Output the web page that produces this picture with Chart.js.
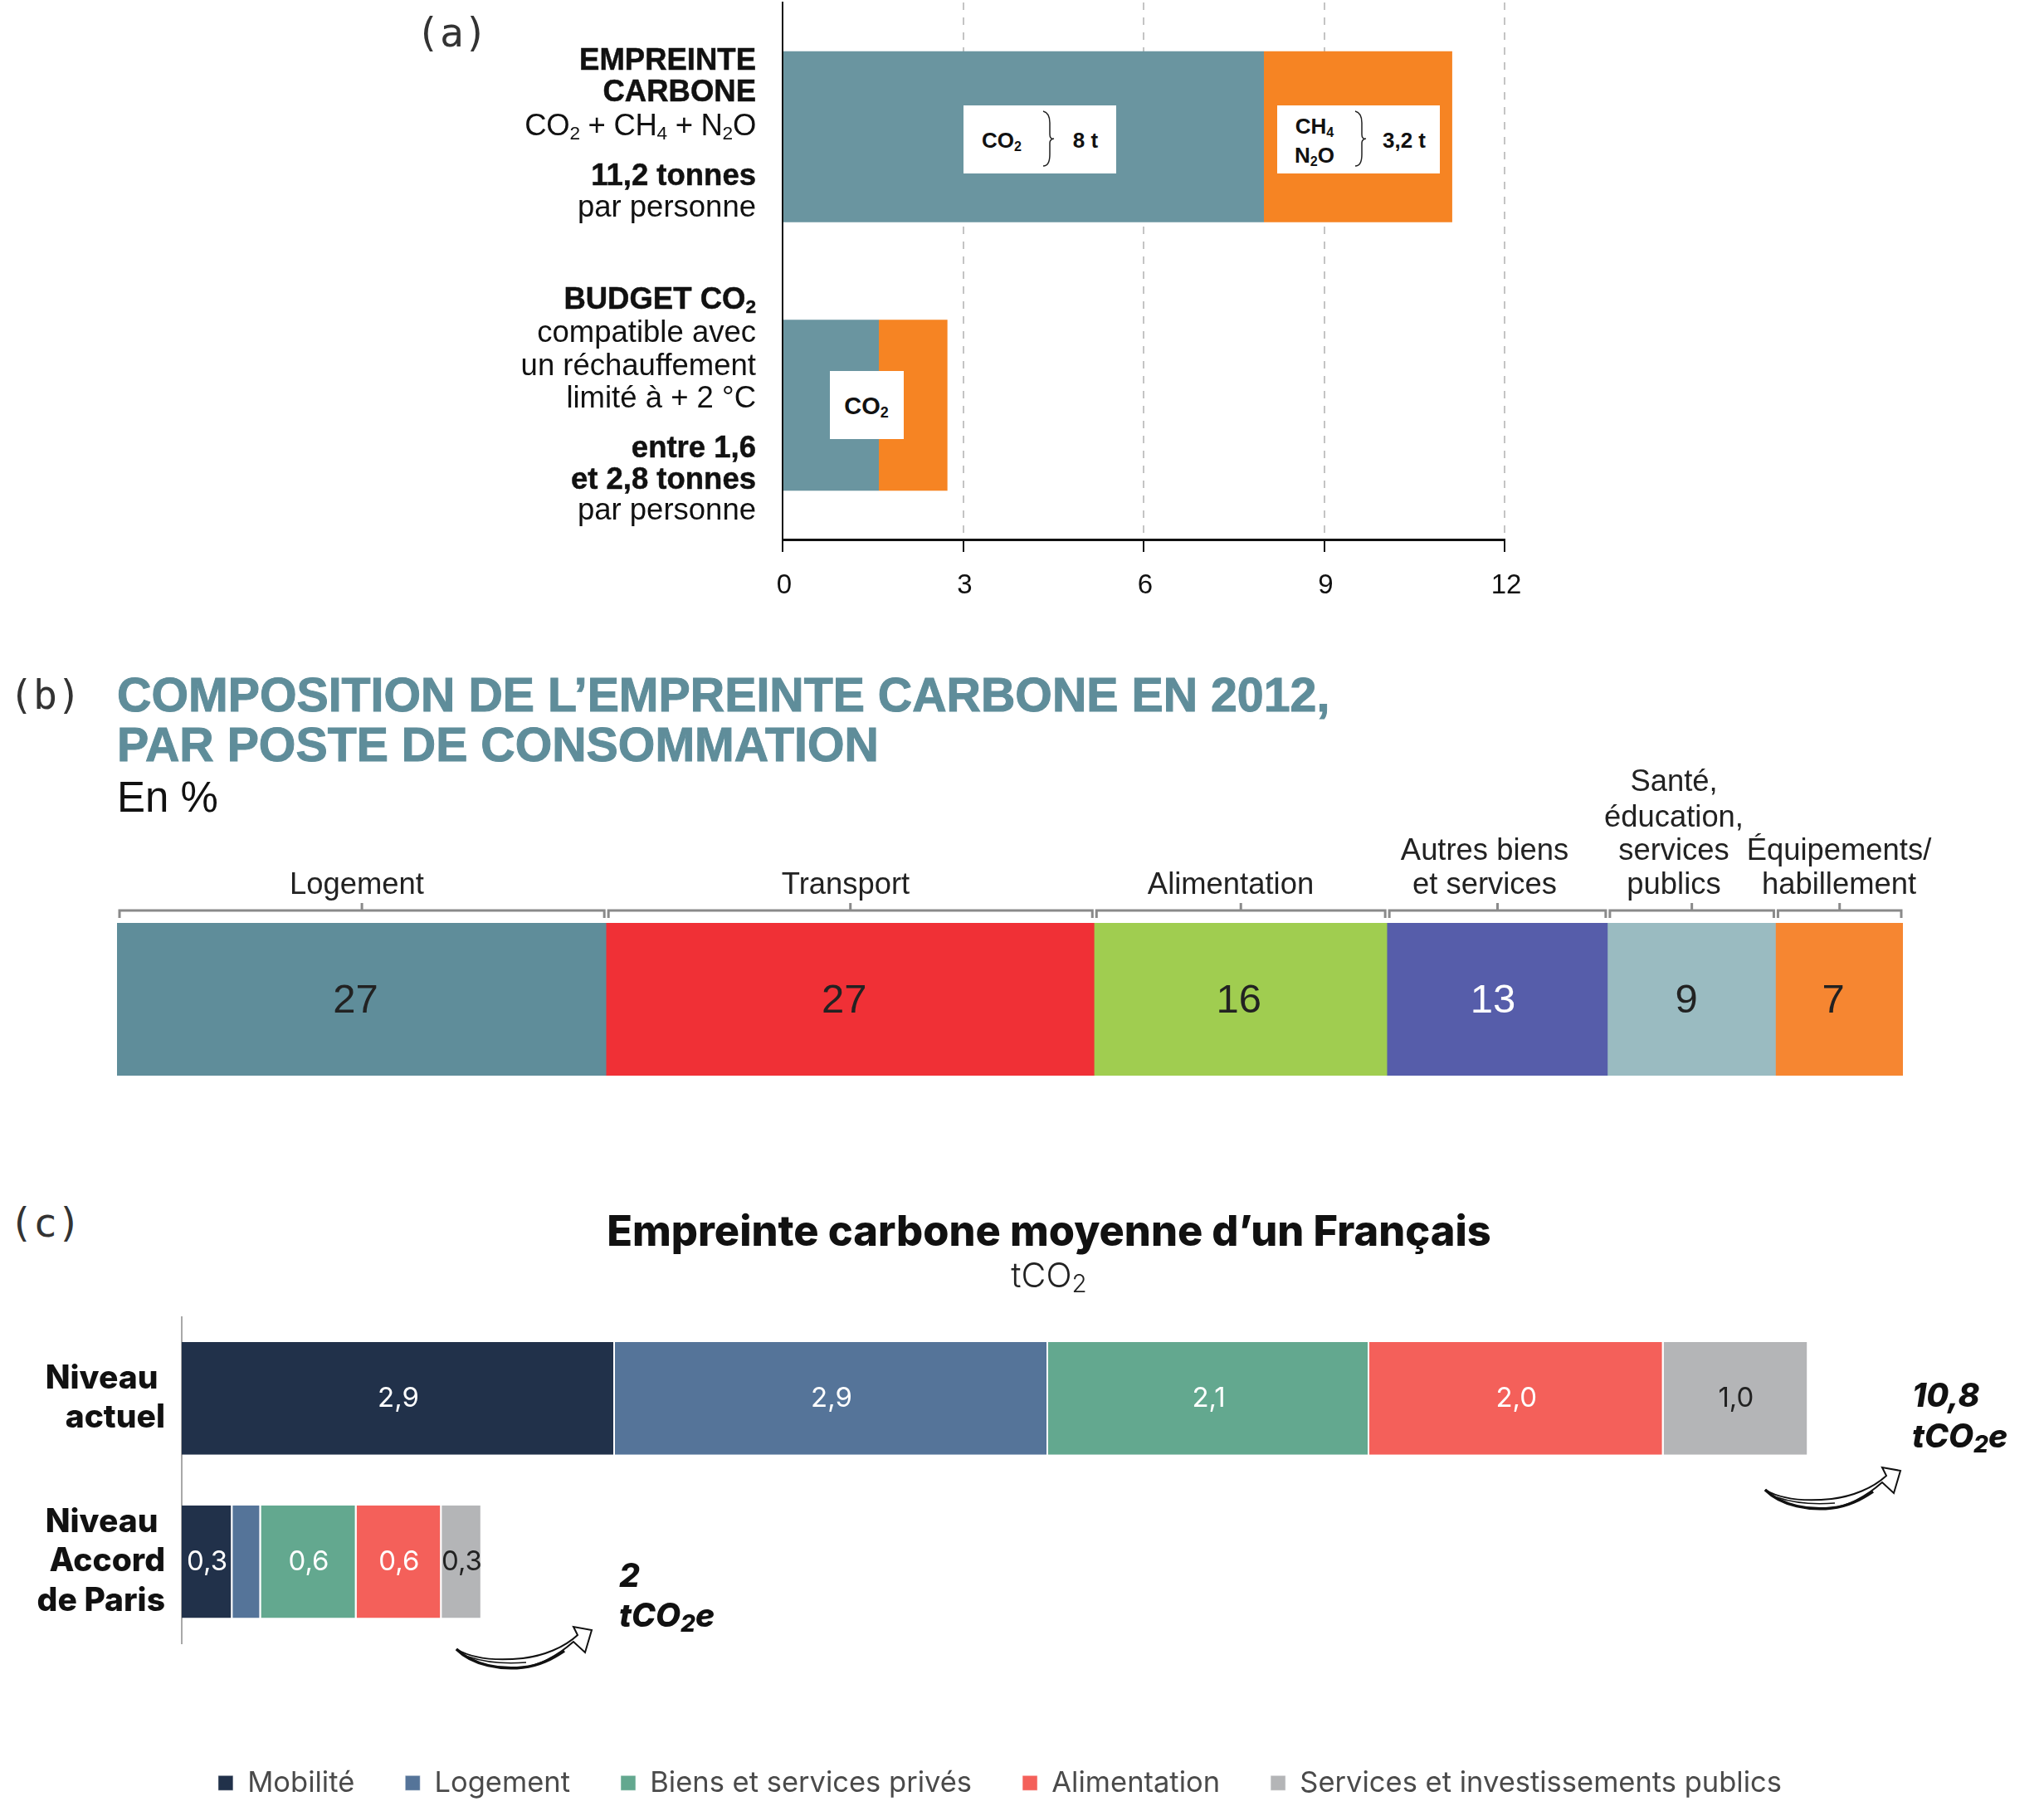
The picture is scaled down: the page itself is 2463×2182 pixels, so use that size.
<!DOCTYPE html>
<html lang="fr">
<head>
<meta charset="UTF-8">
<title>Empreinte carbone</title>
<script src="https://cdn.jsdelivr.net/npm/chart.js"></script>
<style>
    html, body { margin: 0; padding: 0; background: #fff; }
    #page { position: relative; width: 2463px; height: 2182px; overflow: hidden; }
    canvas { position: absolute; left: 0; display: block; }
    #chartA { top: 0; }
    #chartB { top: 790px; }
    #chartC { top: 1560px; }
    svg { position: absolute; left: 0; top: 0; }
    .t { position: absolute; white-space: nowrap; font-family: "Liberation Sans", sans-serif; color: #111; }
    .s { font-size: .62em; position: relative; top: .22em; line-height: 0; }
    .s2 { font-size: .72em; position: relative; top: .22em; line-height: 0; }
    .box { position: absolute; background: #fff; }
</style>
</head>
<body>
<div id="page">
    <canvas id="chartA" width="2463" height="780"></canvas>
    <canvas id="chartB" width="2463" height="540"></canvas>
    <canvas id="chartC" width="2428" height="622"></canvas>
</div>
<script>
// panel (a), tonnes par personne
const aCategories = ["Empreinte carbone", "Budget CO2"];
const aCo2 = [8, 1.6];
const aOther = [3.13, 1.14];
const aTicks = [0, 3, 6, 9, 12];

// panel (b), bar widths measured on the picture, printed labels kept apart
const bSeries = ["Logement", "Transport", "Alimentation", "Autres biens et services", "Santé, éducation, services publics", "Équipements/habillement"];
const bValues = [27.05, 27, 16.2, 12.2, 9.3, 7.05];
const bPrinted = ["27", "27", "16", "13", "9", "7"];

// panel (c), tCO2
const cCategories = [["Niveau ", "actuel"], ["Niveau ", "Accord", "de Paris"]];
const cSeries = ["Mobilité", "Logement", "Biens et services privés", "Alimentation", "Services et investissements publics"];
const cMobilite = [2.9, 0.34];
const cLogement = [2.9, 0.19];
const cBiens = [2.15, 0.64];
const cAlimentation = [1.97, 0.57];
const cServices = [0.97, 0.27];
const cMobiliteLabels = ["2,9", "0,3"];
const cLogementLabels = ["2,9", ""];
const cBiensLabels = ["2,1", "0,6"];
const cAlimentationLabels = ["2,0", "0,6"];
const cServicesLabels = ["1,0", "0,3"];

const bColors = ["#5F8D9A", "#F03036", "#A0CD50", "#565DAA", "#9ABBC1", "#F68631"];
const bLabelColors = ["#222", "#222", "#222", "#fff", "#222", "#222"];
const bLabelDx = [-7, -7, -2, -5, -6, -7];
const cColors = ["#21314A", "#557499", "#63A88F", "#F4605A", "#B4B5B7"];
const cLabelColors = ["#fff", "#fff", "#fff", "#fff", "#222"];

const SANS = '"Liberation Sans", sans-serif';
const GEO = 'Inter, sans-serif';

// writes the value inside each bar
const barLabels = {
    id: "barLabels",
    afterDatasetsDraw(chart) {
        const ctx = chart.ctx;
        chart.data.datasets.forEach((ds, i) => {
            if (!ds.printed) return;
            chart.getDatasetMeta(i).data.forEach((bar, j) => {
                if (!ds.printed[j]) return;
                const p = bar.getCenterPoint();
                ctx.save();
                ctx.font = ds.printedFont;
                ctx.fillStyle = ds.printedColor;
                ctx.textAlign = "center";
                ctx.textBaseline = "middle";
                ctx.fillText(ds.printed[j], p.x + (ds.printedDx || 0), p.y + (ds.printedDy || 0));
                ctx.restore();
            });
        });
    }
};

// brackets above the bar of panel (b)
const brackets = {
    id: "brackets",
    afterDatasetsDraw(chart) {
        const ctx = chart.ctx;
        const top = chart.chartArea.top;
        ctx.save();
        ctx.strokeStyle = "#8a8a8a";
        ctx.lineWidth = 3;
        chart.data.datasets.forEach((ds, i) => {
            const bar = chart.getDatasetMeta(i).data[0];
            const l = bar.base + 3, r = bar.x - 2, y = top - 15;
            ctx.beginPath();
            ctx.moveTo(l, y + 9);
            ctx.lineTo(l, y);
            ctx.lineTo(r, y);
            ctx.lineTo(r, y + 9);
            ctx.moveTo((l + r) / 2, y);
            ctx.lineTo((l + r) / 2, y - 9);
            ctx.stroke();
        });
        ctx.restore();
    }
};

new Chart(document.getElementById("chartA"), {
    type: "bar",
    data: {
        labels: aCategories,
        datasets: [
            { data: aCo2, backgroundColor: "#6A95A0" },
            { data: aOther, backgroundColor: "#F68423" }
        ]
    },
    options: {
        indexAxis: "y",
        responsive: false,
        animation: false,
        devicePixelRatio: 1,
        barPercentage: 0.637,
        categoryPercentage: 1,
        layout: { padding: { left: 943, right: 650, top: 3, bottom: 30 } },
        plugins: { legend: { display: false }, tooltip: { enabled: false } },
        scales: {
            x: {
                stacked: true,
                min: 0,
                max: 12,
                afterBuildTicks: s => { s.ticks = aTicks.map(v => ({ value: v })); },
                afterFit: s => { s.height = 100; },
                border: { color: "#111", width: 3, dash: [9, 9] },
                grid: { color: "#c4c4c4", lineWidth: 2, tickColor: "#111", tickLength: 15, tickWidth: 2 },
                ticks: { color: "#111", padding: 21, labelOffset: 2, maxRotation: 0, font: { family: SANS, size: 33 } }
            },
            y: {
                stacked: true,
                afterFit: s => { s.width = 0; },
                border: { color: "#111", width: 2 },
                grid: { display: false },
                ticks: { display: false }
            }
        }
    }
});

new Chart(document.getElementById("chartB"), {
    type: "bar",
    data: {
        labels: ["Empreinte"],
        datasets: bSeries.map((name, i) => ({
            label: name,
            data: [bValues[i]],
            backgroundColor: bColors[i],
            printed: [bPrinted[i]],
            printedColor: bLabelColors[i],
            printedFont: "49px " + SANS,
            printedDx: bLabelDx[i],
            printedDy: 2
        }))
    },
    options: {
        indexAxis: "y",
        responsive: false,
        animation: false,
        devicePixelRatio: 1,
        barPercentage: 1,
        categoryPercentage: 1,
        layout: { padding: { left: 141, right: 170, top: 322, bottom: 34 } },
        plugins: { legend: { display: false }, tooltip: { enabled: false } },
        scales: {
            x: { display: false, stacked: true, min: 0, max: bValues.reduce((a, b) => a + b, 0) },
            y: { display: false, stacked: true }
        }
    },
    plugins: [barLabels, brackets]
});

const cData = [cMobilite, cLogement, cBiens, cAlimentation, cServices];
const cPrinted = [cMobiliteLabels, cLogementLabels, cBiensLabels, cAlimentationLabels, cServicesLabels];

new Chart(document.getElementById("chartC"), {
    type: "bar",
    data: {
        labels: cCategories,
        datasets: cSeries.map((name, i) => ({
            label: name,
            data: cData[i],
            backgroundColor: cColors[i],
            borderColor: "#fff",
            borderWidth: { right: 2 },
            borderSkipped: false,
            printed: cPrinted[i],
            printedColor: cLabelColors[i],
            printedFont: "400 33px " + GEO,
            printedDy: 0
        }))
    },
    options: {
        indexAxis: "y",
        responsive: false,
        animation: false,
        devicePixelRatio: 1,
        barPercentage: 0.69,
        categoryPercentage: 1,
        layout: { padding: { left: 0, right: 220, top: 26.5, bottom: 6.5 } },
        plugins: {
            tooltip: { enabled: false },
            legend: {
                position: "bottom",
                align: "end",
                labels: {
                    boxWidth: 18,
                    boxHeight: 18,
                    padding: 61,
                    color: "#4a4a4a",
                    font: { family: GEO, size: 34.5 }
                }
            }
        },
        scales: {
            x: {
                stacked: true,
                min: 0,
                max: 11.05,
                afterFit: s => { s.height = 90; },
                border: { display: false },
                grid: { display: false },
                ticks: { display: false }
            },
            y: {
                stacked: true,
                afterFit: s => { s.width = 219; s.paddingTop = 0; s.paddingBottom = 0; },
                border: { color: "#a8a8a8", width: 2 },
                grid: { display: false, drawTicks: false },
                ticks: { color: "#111", padding: 20, font: { family: GEO, size: 39, weight: "800", lineHeight: 1.22 } }
            }
        }
    },
    plugins: [barLabels]
});

// text and small drawings laid over the charts
const page = document.getElementById("page");

function put(x, y, html, css, anchor) {
    const el = document.createElement("div");
    el.className = "t";
    el.innerHTML = html;
    el.style.cssText = "left:" + x + "px;top:" + y + "px;transform:translate(" + (anchor || "0") + ",-50%);" + (css || "");
    page.appendChild(el);
}

function whiteBox(x1, y1, x2, y2) {
    const el = document.createElement("div");
    el.className = "box";
    el.style.cssText = "left:" + x1 + "px;top:" + y1 + "px;width:" + (x2 - x1) + "px;height:" + (y2 - y1) + "px";
    page.appendChild(el);
}

const sub = c => '<span class="s">' + c + "</span>";
const sub2 = c => '<span class="s2">' + c + "</span>";
const panelCss = 'font-family:"DejaVu Sans Mono";font-size:48px;color:#333;';
put(501, 39, "(a)", panelCss);
put(11, 837, "(b)", panelCss);
put(11, 1473, "(c)", panelCss);

// (a) row captions
const aCss = "font-size:36.5px;";
const aBold = aCss + "font-weight:700;-webkit-text-stroke:.5px #111;";
[
    [72, "EMPREINTE", aBold],
    [110, "CARBONE", aBold],
    [151, "CO" + sub(2) + " + CH" + sub(4) + " + N" + sub(2) + "O", aCss + "letter-spacing:-.3px;"],
    [211, "11,2 tonnes", aBold],
    [249, "par personne", aCss],
    [360, "BUDGET CO" + sub(2), aBold],
    [400, "compatible avec", aCss],
    [440, "un réchauffement", aCss],
    [479, "limité à + 2 °C", aCss],
    [539, "entre 1,6", aBold],
    [577, "et 2,8 tonnes", aBold],
    [614, "par personne", aCss]
].forEach(l => put(911, l[0], l[1], l[2], "-100%"));

// (a) white tags on the bars
const tagCss = "font-size:26px;font-weight:700;";
whiteBox(1161, 127, 1345, 209);
whiteBox(1539, 127, 1735, 209);
whiteBox(1000, 447, 1089, 529);
put(1207, 169, "CO" + sub(2), tagCss, "-50%");
put(1308, 169, "8 t", tagCss, "-50%");
put(1584, 152, "CH" + sub(4), tagCss, "-50%");
put(1584, 187, "N" + sub(2) + "O", tagCss, "-50%");
put(1692, 169, "3,2 t", tagCss, "-50%");
put(1044, 489, "CO" + sub(2), "font-size:29px;font-weight:700;", "-50%");

// (b) titles and captions above the brackets
const bTitleCss = "font-size:57.3px;font-weight:700;color:#5F8D9A;-webkit-text-stroke:1px #5F8D9A;";
put(141, 837, "COMPOSITION DE L’EMPREINTE CARBONE EN 2012,", bTitleCss);
put(141, 897, "PAR POSTE DE CONSOMMATION", bTitleCss);
put(141, 960, "En %", "font-size:51px;");
const bCaptionCss = "font-size:36.4px;color:#222;";
[
    [430, 1064.5, "Logement"],
    [1019, 1064.5, "Transport"],
    [1483, 1064.5, "Alimentation"],
    [1789, 1023.5, "Autres biens"],
    [1789, 1064.5, "et services"],
    [2017, 940.5, "Santé,"],
    [2017, 983.5, "éducation,"],
    [2017, 1023.5, "services"],
    [2017, 1064.5, "publics"],
    [2216, 1023.5, "Équipements/"],
    [2216, 1064.5, "habillement"]
].forEach(l => put(l[0], l[1], l[2], bCaptionCss, "-50%"));

// (c) title and totals
put(1264, 1482, "Empreinte carbone moyenne d’un Français", "font-family:Inter;font-weight:800;font-size:50.5px;", "-50%");
put(1264, 1536, "tCO" + sub2(2), "font-family:Inter;font-weight:300;font-size:41px;color:#222;", "-50%");
const totalCss = "font-family:Inter;font-weight:800;font-style:italic;font-size:39px;";
put(2304, 1680, "10,8", totalCss);
put(2304, 1729, "tCO" + sub2(2) + "e", totalCss);
put(746, 1897, "2", totalCss);
put(746, 1945, "tCO" + sub2(2) + "e", totalCss);

// braces and hand-drawn arrows
function brace(x, top) {
    return '<path d="M' + x + " " + top + " q8 2 8 14 v14 q0 6 5 5 q-5 1 -5 5 v14 q0 14 -8 14" + '" fill="none" stroke="#222" stroke-width="1.5"/>';
}
function arrow(x, y) {
    return '<g transform="translate(' + x + " " + y + ')" stroke="#111" stroke-linejoin="miter">' +
        '<path d="M0 0C20 20 55 25 80 22C105 19 125 5 141 -9L155 4L163 -23L141 -27L146 -17C130 -2 105 8 80 11C50 14 20 12 0 0Z" fill="#fff" stroke-width="2"/>' +
        '<path d="M0 0C20 20 55 25 80 22C100 20 115 12 130 2" fill="none" stroke-width="3.5"/>' +
        '<path d="M14 9C35 16 60 18 84 16" fill="none" stroke-width="1.5"/>' +
        "</g>";
}
const overlay = document.createElementNS("http://www.w3.org/2000/svg", "svg");
overlay.setAttribute("width", 2463);
overlay.setAttribute("height", 2182);
overlay.innerHTML = brace(1257, 134) + brace(1633, 134) + arrow(550, 1987) + arrow(2127, 1795);
page.appendChild(overlay);
</script>
</body>
</html>
